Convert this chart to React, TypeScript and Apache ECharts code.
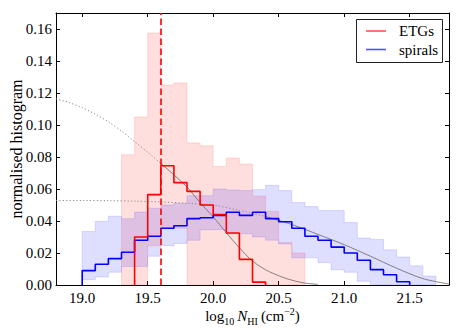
import React, { useEffect, useRef } from "react";
import * as echarts from "echarts";

// Bin edges (left edges of 0.1-dex bins, plus the final right edge)
const binEdges = [
  19.0, 19.1, 19.2, 19.3, 19.4, 19.5, 19.6, 19.7, 19.8, 19.9,
  20.0, 20.1, 20.2, 20.3, 20.4, 20.5, 20.6, 20.7, 20.8, 20.9,
  21.0, 21.1, 21.2, 21.3, 21.4, 21.5, 21.6, 21.7,
];

// Spirals: histogram and shaded range (per bin)
const spiralHist = [
  0.009, 0.013, 0.0165, 0.0205, 0.028, 0.0305, 0.0355, 0.037, 0.0415, 0.042,
  0.0435, 0.0455, 0.0435, 0.0455, 0.0415, 0.0395, 0.0355, 0.0305, 0.028, 0.0237,
  0.02, 0.0155, 0.0096, 0.0064, 0.002, null, null,
];
const spiralLow = [
  0.0033, 0.005, 0.008, 0.0116, 0.0116, 0.018, 0.0246, 0.026, 0.028, 0.0346,
  0.0346, 0.032, 0.032, 0.03, 0.028, 0.0256, 0.017, 0.017, 0.014, 0.0096,
  0.008, 0.0023, 0, 0, 0, 0, 0,
];
const spiralHigh = [
  0.0335, 0.0398, 0.043, 0.0414, 0.0456, 0.048, 0.05, 0.051, 0.0558, 0.0558,
  0.06, 0.0594, 0.059, 0.0596, 0.0623, 0.059, 0.0516, 0.049, 0.0466, 0.0466,
  0.039, 0.0294, 0.0285, 0.022, 0.0175, 0.012, 0.0056,
];

// ETGs: histogram and shaded range (per bin)
const etgHist = [
  null, null, null, null, 0.03, 0.0565, 0.0745, 0.064, 0.0585, 0.05,
  0.044, 0.0325, 0.016, 0.0018, null, null, null, null, null, null,
  null, null, null, null, null, null, null,
];
const etgLow = [
  null, null, null, 0, 0, 0.0245, 0.0355, 0.0355, 0, 0,
  0, 0, 0, 0, 0, 0, 0, null, null, null,
  null, null, null, null, null, null, null,
];
const etgHigh = [
  null, null, null, 0.0814, 0.105, 0.1575, 0.125, 0.1263, 0.0888, 0.087,
  0.0741, 0.0794, 0.0756, 0.0556, 0.046, 0.0266, 0.02, null, null, null,
  null, null, null, null, null, null, null,
];

// Model curves
const etgModelX = [
  18.8, 18.9, 19.0, 19.1, 19.2, 19.3, 19.4, 19.5, 19.6, 19.7, 19.8,
  19.9, 20.0, 20.1, 20.2, 20.3, 20.4, 20.5, 20.6, 20.7, 20.8,
];
const etgModelY = [
  0.1164, 0.114, 0.1108, 0.1068, 0.102, 0.0962, 0.0896, 0.083, 0.076, 0.0688, 0.0612,
  0.0515, 0.0426, 0.0327, 0.0232, 0.015, 0.0095, 0.0058, 0.003, 0.0012, 0.0004,
];
const spiralModelX = [
  18.8, 19.0, 19.2, 19.4, 19.6, 19.8, 20.0, 20.2, 20.4, 20.6,
  20.8, 21.0, 21.2, 21.4, 21.6, 21.8,
];
const spiralModelY = [
  0.0528, 0.0528, 0.0527, 0.0524, 0.0519, 0.0511, 0.0499, 0.0466, 0.0428, 0.0378,
  0.0316, 0.0252, 0.018, 0.0105, 0.004, 0.0006,
];
const etgModelSplit = 19.6;
const spiralModelSplit = 20.4;
const detectionLimit = 19.6;

const xTicks = [19.0, 19.5, 20.0, 20.5, 21.0, 21.5];
const yTicks = [0, 0.02, 0.04, 0.06, 0.08, 0.1, 0.12, 0.14, 0.16];

const FONT = "Liberation Serif";

function stepPoints(vals: (number | null)[]) {
  const pts: number[][] = [];
  let first = -1;
  let last = -1;
  vals.forEach((v, i) => {
    if (v != null) {
      if (first < 0) first = i;
      last = i;
    }
  });
  pts.push([binEdges[first], 0]);
  for (let i = first; i <= last; i++) {
    pts.push([binEdges[i], vals[i] as number]);
    pts.push([binEdges[i + 1], vals[i] as number]);
  }
  pts.push([binEdges[last + 1], 0]);
  return pts;
}

function bandSeries(name: string, lo: (number | null)[], hi: (number | null)[], fill: string, stroke: string) {
  return {
    type: "custom",
    name,
    silent: true,
    z: 1,
    clip: true,
    data: [[binEdges[0], 0]],
    renderItem: (_params: any, api: any) => {
      const upper: number[][] = [];
      const lower: number[][] = [];
      for (let i = 0; i < hi.length; i++) {
        if (hi[i] == null || lo[i] == null) continue;
        upper.push(api.coord([binEdges[i], hi[i]]), api.coord([binEdges[i + 1], hi[i]]));
        lower.push(api.coord([binEdges[i], lo[i]]), api.coord([binEdges[i + 1], lo[i]]));
      }
      const points = upper.concat(lower.reverse());
      return {
        type: "polygon",
        shape: { points },
        style: { fill, stroke, lineWidth: 1 },
      };
    },
  };
}

function modelPart(xs: number[], ys: number[], cond: (x: number) => boolean, dotted: boolean) {
  const data: number[][] = [];
  xs.forEach((x, i) => {
    if (cond(x)) data.push([x, ys[i]]);
  });
  return {
    type: "line",
    data,
    smooth: 0.3,
    showSymbol: false,
    silent: true,
    z: 2,
    lineStyle: dotted
      ? { color: "#8a8a8a", width: 1, type: [1.2, 2.2] }
      : { color: "#666", width: 0.8, type: "solid" },
  };
}

export default function App() {
  const ref = useRef<HTMLDivElement>(null);

  useEffect(() => {
    document.body.style.margin = "0";
    if (!ref.current) return;
    const chart = echarts.init(ref.current, undefined, { renderer: "svg" });

    const labelStyle = { color: "#000", fontFamily: FONT, fontSize: 15 };
    const xAxisBase = {
      type: "value",
      min: 18.8,
      max: 21.8,
      axisLine: { show: true, onZero: false, lineStyle: { color: "#000", width: 1 } },
      axisTick: { show: true, inside: true, length: 4, customValues: xTicks, lineStyle: { color: "#000" } },
      splitLine: { show: false },
    };
    const yAxisBase = {
      type: "value",
      min: 0,
      max: 0.17,
      axisLine: { show: true, onZero: false, lineStyle: { color: "#000", width: 1 } },
      axisTick: { show: true, inside: true, length: 4, customValues: yTicks, lineStyle: { color: "#000" } },
      splitLine: { show: false },
    };

    const option: any = {
      animation: false,
      backgroundColor: "#fff",
      grid: {
        left: 56,
        top: 13,
        width: 393,
        height: 272,
        show: false,
        containLabel: false,
        outerBoundsMode: "none",
      },
      xAxis: [
        {
          ...xAxisBase,
          position: "bottom",
          axisLabel: {
            ...labelStyle,
            margin: 5,
            customValues: xTicks,
            formatter: (v: number) => v.toFixed(1),
          },
          name: "{a|log}{s|10} {i|N}{s|HI} {a|(cm}{p|−2}{a|)}",
          nameLocation: "middle",
          nameGap: 21,
          nameMoveOverlap: false,
          nameTextStyle: {
            color: "#000",
            fontFamily: FONT,
            rich: {
              a: { fontFamily: FONT, fontSize: 15, color: "#000", lineHeight: 20, verticalAlign: "middle" },
              i: { fontFamily: FONT, fontSize: 15, color: "#000", fontStyle: "italic", lineHeight: 20, verticalAlign: "middle" },
              s: { fontFamily: FONT, fontSize: 10, color: "#000", lineHeight: 10, verticalAlign: "bottom" },
              p: { fontFamily: FONT, fontSize: 10, color: "#000", lineHeight: 13, verticalAlign: "top" },
            },
          },
        },
        { ...xAxisBase, position: "top", axisLabel: { show: false } },
      ],
      yAxis: [
        {
          ...yAxisBase,
          position: "left",
          axisLabel: {
            ...labelStyle,
            margin: 4,
            customValues: yTicks,
            formatter: (v: number) => v.toFixed(2),
          },
          name: "normalised histogram",
          nameLocation: "middle",
          nameGap: 32,
          nameMoveOverlap: false,
          nameTextStyle: { color: "#000", fontFamily: FONT, fontSize: 16 },
        },
        { ...yAxisBase, position: "right", axisLabel: { show: false } },
      ],
      series: [
        bandSeries("ETG range", etgLow, etgHigh, "rgba(255,0,0,0.13)", "rgba(255,0,0,0.12)"),
        bandSeries("spiral range", spiralLow, spiralHigh, "rgba(0,0,255,0.13)", "rgba(0,0,255,0.12)"),
        modelPart(etgModelX, etgModelY, (x) => x <= etgModelSplit, true),
        modelPart(etgModelX, etgModelY, (x) => x >= etgModelSplit, false),
        modelPart(spiralModelX, spiralModelY, (x) => x <= spiralModelSplit, true),
        modelPart(spiralModelX, spiralModelY, (x) => x >= spiralModelSplit, false),
        {
          type: "line",
          name: "spirals",
          data: stepPoints(spiralHist),
          showSymbol: false,
          silent: true,
          z: 3,
          lineStyle: { color: "#0000ff", width: 1.6 },
        },
        {
          type: "line",
          name: "ETGs",
          data: stepPoints(etgHist),
          showSymbol: false,
          silent: true,
          z: 4,
          lineStyle: { color: "#ff0000", width: 1.6 },
          markLine: {
            symbol: "none",
            silent: true,
            label: { show: false },
            lineStyle: { color: "#ff0000", width: 1.6, type: [6.5, 3.5] },
            data: [{ xAxis: detectionLimit }],
          },
        },
      ],
      graphic: [
        {
          type: "group",
          z: 100,
          children: [
            {
              type: "rect",
              shape: { x: 356.5, y: 19.5, width: 86, height: 43 },
              style: { fill: "#fff", stroke: "#222", lineWidth: 1 },
            },
            {
              type: "line",
              shape: { x1: 366, y1: 31, x2: 386, y2: 31 },
              style: { stroke: "#ff5050", lineWidth: 1.6 },
            },
            {
              type: "text",
              x: 399,
              y: 31,
              style: { text: "ETGs", fill: "#000", font: `15px "${FONT}"`, verticalAlign: "middle" },
            },
            {
              type: "line",
              shape: { x1: 366, y1: 49.5, x2: 386, y2: 49.5 },
              style: { stroke: "#5050ff", lineWidth: 1.6 },
            },
            {
              type: "text",
              x: 399,
              y: 49.5,
              style: { text: "spirals", fill: "#000", font: `15px "${FONT}"`, verticalAlign: "middle" },
            },
          ],
        },
      ],
    };

    chart.setOption(option);
    return () => chart.dispose();
  }, []);

  return <div ref={ref} style={{ width: 463, height: 333 }} />;
}
